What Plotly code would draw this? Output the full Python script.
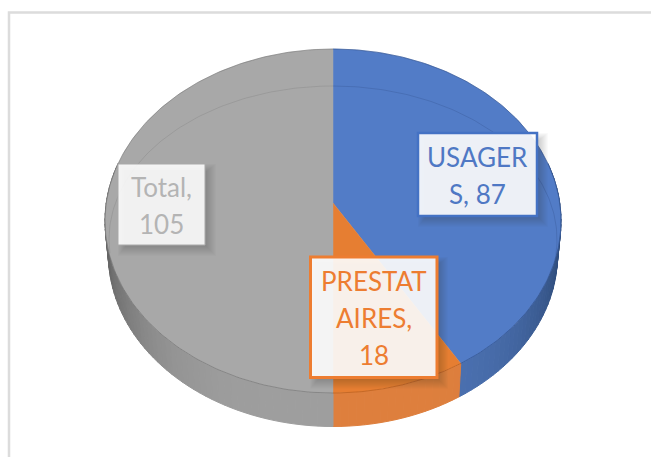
import numpy as np
import plotly.graph_objects as go

categories = ["USAGERS", "PRESTATAIRES", "Total"]
values = [87, 18, 105]
label_lines = [["USAGER", "S, 87"], ["PRESTAT", "AIRES,", "18"], ["Total,", "105"]]
face_colors = ["#527cc7", "#e67e32", "#a8a8a8"]
side_light = [(76, 114, 179), (222, 127, 61), (158, 158, 158)]
side_dark = [(45, 74, 120), (205, 118, 58), (100, 100, 100)]
text_colors = ["#4f78c4", "#ed7d31", "#b4b4b4"]
border_colors = ["#4472c4", "#ed7d31", "#a9a9a9"]
rim_colors = ["rgba(40,70,125,0.5)", "rgba(170,85,25,0.55)", "rgba(85,85,85,0.38)"]
inner_colors = ["rgba(50,80,140,0.3)", "rgba(190,100,30,0.45)", "rgba(120,120,120,0.28)"]

# projection of the tilted disc onto the page (pixels)
CX, APEX_Y, TOP_Y, BOT_Y, HALF_W, DEPTH, BASE_SCALE = 333, 203, 49, 393, 228, 33.5, 0.985
# solve y=(a*v+b)/(c*v+1) through v=-1,0,1
b = APEX_Y
c = (2 * b - BOT_Y - TOP_Y) / (BOT_Y - TOP_Y)
a = BOT_Y * (1 + c) - b
X = HALF_W * np.sqrt(1 - c * c)


def project(theta, drop=0.0, scale=1.0):
    u, v = np.sin(theta), -np.cos(theta)
    d = 1 + c * v
    return CX + scale * X * u / d, (a * v + b) / d + drop


def mix(p, q, t):
    return "rgb(%d,%d,%d)" % tuple(round(p[i] + (q[i] - p[i]) * t) for i in range(3))


total = sum(values)
edges = np.concatenate([[0], np.cumsum(values)]) / total * 2 * np.pi

fig = go.Figure()
common = dict(mode="lines", hoverinfo="skip", showlegend=False)

# side wall, drawn as shaded strips
for i, name in enumerate(categories):
    n = max(4, int((edges[i + 1] - edges[i]) / 0.03))
    th = np.linspace(edges[i], edges[i + 1], n + 1)
    for j in range(n):
        mid = (th[j] + th[j + 1]) / 2
        if np.cos(mid) > 0.25:
            continue
        seg = np.linspace(th[j], th[j + 1], 3)
        x1, y1 = project(seg)
        x2, y2 = project(seg[::-1], DEPTH, BASE_SCALE)
        col = mix(side_light[i], side_dark[i], abs(np.sin(mid)) ** 4)
        fig.add_trace(go.Scatter(x=np.r_[x1, x2, x1[0]], y=np.r_[y1, y2, y1[0]], fill="toself",
                                 fillcolor=col, line=dict(color=col, width=1), **common))

# top faces
for i, name in enumerate(categories):
    th = np.linspace(edges[i], edges[i + 1], 160)
    x, y = project(th)
    fig.add_trace(go.Scatter(x=np.r_[CX, x, CX], y=np.r_[APEX_Y, y, APEX_Y], fill="toself", name=name,
                             fillcolor=face_colors[i], line=dict(color=face_colors[i], width=0.5), **common))

# bevel line and rim
IN_TOP, IN_BOT, IN_W = 86, 393, 224
for i, name in enumerate(categories):
    th = np.linspace(edges[i], edges[i + 1], 160)
    x, y = project(th)
    fig.add_trace(go.Scatter(x=x, y=y, line=dict(color=rim_colors[i], width=1), **common))
    keep = np.cos(th) > -0.1
    if keep.any():
        xi = CX + IN_W * np.sin(th[keep])
        yi = (IN_TOP + IN_BOT) / 2 - (IN_BOT - IN_TOP) / 2 * np.cos(th[keep])
        fig.add_trace(go.Scatter(x=xi, y=yi, line=dict(color=inner_colors[i], width=1), **common))

# value boxes (left, right, top, bottom in pixels)
boxes = [(418, 537, 133, 216, 2.5), (310.5, 437, 257, 377.5, 3), (118, 205, 164, 245, 1)]
fills = ["rgba(255,255,255,0.9)", "rgba(255,255,255,0.9)", "rgba(255,255,255,0.88)"]
LINE_STEP = 37
shapes = [dict(type="rect", xref="x", yref="y", x0=9, x1=670, y0=12.5, y1=480,
               line=dict(color="#dcdcdc", width=2.5), fillcolor="white", layer="below")]
annotations = []
for i, (l, r, t, bt, w) in enumerate(boxes):
    for k in range(10, 0, -1):
        shapes.append(dict(type="rect", xref="x", yref="y", x0=l + 8 - k * 0.8, x1=r + 1 + k, y0=t + 8 - k * 0.8,
                           y1=bt + 1 + k, line=dict(width=0), fillcolor="rgba(40,40,40,0.022)", layer="above"))
    shapes.append(dict(type="rect", xref="x", yref="y", x0=l, x1=r, y0=t, y1=bt, fillcolor=fills[i],
                       line=dict(color=border_colors[i], width=w), layer="above"))
    lines = label_lines[i]
    for q, line in enumerate(lines):
        annotations.append(dict(x=(l + r) / 2, y=(t + bt) / 2 + 1 + (q - (len(lines) - 1) / 2) * LINE_STEP,
                                xref="x", yref="y", showarrow=False, text=line, align="center",
                                font=dict(family="Lato", size=26, color=text_colors[i])))

fig.update_layout(
    width=651, height=457, margin=dict(l=0, r=0, t=0, b=0), autosize=False,
    paper_bgcolor="white", plot_bgcolor="white", showlegend=False,
    xaxis=dict(range=[0, 651], visible=False, fixedrange=True),
    yaxis=dict(range=[457, 0], visible=False, fixedrange=True),
    shapes=shapes, annotations=annotations,
)
fig.write_html("out.html", config={"displayModeBar": False},
               post_script="document.body.style.margin='0';document.body.style.overflow='hidden';")
